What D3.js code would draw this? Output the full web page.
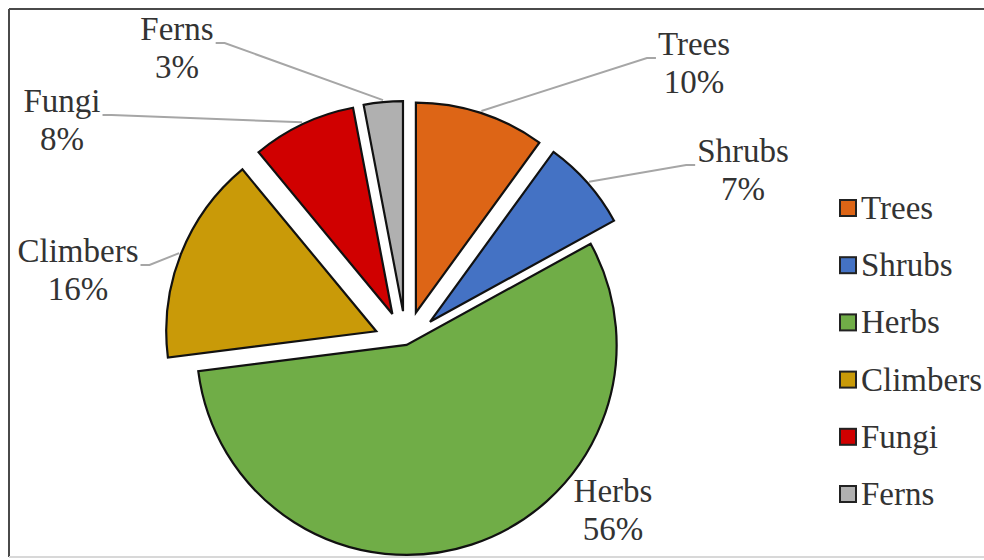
<!DOCTYPE html>
<html>
<head>
<meta charset="utf-8">
<script src="https://cdn.jsdelivr.net/npm/d3@7"></script>
<style>
	body { margin: 0; background: #fff; }
	svg { display: block; }
</style>
</head>
<body>
<div id="chart"></div>
<script>

// data
var names   = ["Trees", "Shrubs", "Herbs", "Climbers", "Fungi", "Ferns"];
var values  = [10, 7, 56, 16, 8, 3];
var colors  = ["#dd6516", "#4472c4", "#70ad47", "#c99a08", "#d00000", "#b0b0b0"];

var width = 984, height = 560;
var cx = 406, cy = 343, radius = 210;

// pick the first serif face that is really installed
var candidates = ["Liberation Serif", "Tinos", "Times New Roman", "DejaVu Serif", "Noto Serif", "FreeSerif", "Nimbus Roman", "Times"];
var ctx = document.createElement("canvas").getContext("2d");
function measure(f){ ctx.font = "32px " + f; return ctx.measureText("Climbers Wg 16%").width; }
var serif = "serif";
for (var i = 0; i < candidates.length; i++){
	var c = candidates[i];
	if (measure("'" + c + "', monospace") !== measure("monospace")) { serif = "'" + c + "', serif"; break; }
}

// label placement (centre x, first baseline) - hand placed like excel does
var labelAt = {
	"Trees":    [694, 55],
	"Shrubs":   [743, 162],
	"Herbs":    [613, 502],
	"Climbers": [78, 262],
	"Fungi":    [62, 112],
	"Ferns":    [177, 40]
};
// which side the leader line leaves the label from
var leaderSide = { "Trees": -1, "Shrubs": -1, "Climbers": 1, "Fungi": 1, "Ferns": 1 };

function explode(name){ return name === "Herbs" ? 2 : 32; }

var svg = d3.select("#chart").append("svg")
	.attr("width", width)
	.attr("height", height);

// frame
svg.append("line").attr("x1", 9).attr("y1", 9).attr("x2", width).attr("y2", 9)
	.attr("stroke", "#4a4a4a").attr("stroke-width", 2);
svg.append("line").attr("x1", 9).attr("y1", 9).attr("x2", 9).attr("y2", 557)
	.attr("stroke", "#4a4a4a").attr("stroke-width", 2);
svg.append("line").attr("x1", 9).attr("y1", 557).attr("x2", width).attr("y2", 557)
	.attr("stroke", "#d8d8d8").attr("stroke-width", 2);

var data = names.map(function(n, i){ return { name: n, value: values[i], color: colors[i] }; });

var pie = d3.pie().sort(null).value(function(d){ return d.value; });
var arcs = pie(data);

var arc = d3.arc().innerRadius(0).outerRadius(radius);

function offset(d){
	var mid = (d.startAngle + d.endAngle) / 2;
	var e = explode(d.data.name);
	return [cx + e * Math.sin(mid), cy - e * Math.cos(mid)];
}

var g = svg.append("g");

g.selectAll("path.slice")
	.data(arcs).enter()
	.append("path")
		.attr("class", "slice")
		.attr("d", arc)
		.attr("transform", function(d){ var o = offset(d); return "translate(" + o[0] + "," + o[1] + ")"; })
		.attr("fill", function(d){ return d.data.color; })
		.attr("stroke", "#111")
		.attr("stroke-width", 2.2)
		.attr("stroke-linejoin", "miter");

// data labels
var fs = 33, lineH = 38;
var labels = svg.append("g");

arcs.forEach(function(d){
	var p = labelAt[d.data.name];
	var t = labels.append("text")
		.attr("text-anchor", "middle")
		.style("font-family", serif)
		.attr("fill", "#333")
		.attr("font-size", fs);
	t.append("tspan").attr("x", p[0]).attr("y", p[1]).text(d.data.name);
	t.append("tspan").attr("x", p[0]).attr("y", p[1] + lineH).text(Math.round(d.value) + "%");

	var side = leaderSide[d.data.name];
	if (!side) return;
	var w = t.select("tspan").node().getComputedTextLength();
	var sx = p[0] + side * (w / 2 + 2), sy = p[1] + 3;
	var mid = (d.startAngle + d.endAngle) / 2;
	var o = offset(d);
	var ex = o[0] + (radius + 2) * Math.sin(mid), ey = o[1] - (radius + 2) * Math.cos(mid);
	svg.insert("polyline", "g")
		.attr("points", [[sx, sy], [sx + side * 9, sy], [ex, ey]].map(function(q){ return q.join(","); }).join(" "))
		.attr("fill", "none")
		.attr("stroke", "#a6a6a6")
		.attr("stroke-width", 2);
});

// legend
var ly = d3.scalePoint().domain(names).range([208, 494]);
var legend = svg.append("g");
var item = legend.selectAll("g").data(data).enter().append("g")
	.attr("transform", function(d){ return "translate(840," + ly(d.name) + ")"; });
item.append("rect")
	.attr("x", 0).attr("y", -8).attr("width", 16).attr("height", 16)
	.attr("fill", function(d){ return d.color; })
	.attr("stroke", "#222").attr("stroke-width", 2);
item.append("text")
	.attr("x", 21).attr("y", 11)
	.style("font-family", serif)
	.attr("fill", "#333")
	.attr("font-size", 33)
	.text(function(d){ return d.name; });

</script>
</body>
</html>
